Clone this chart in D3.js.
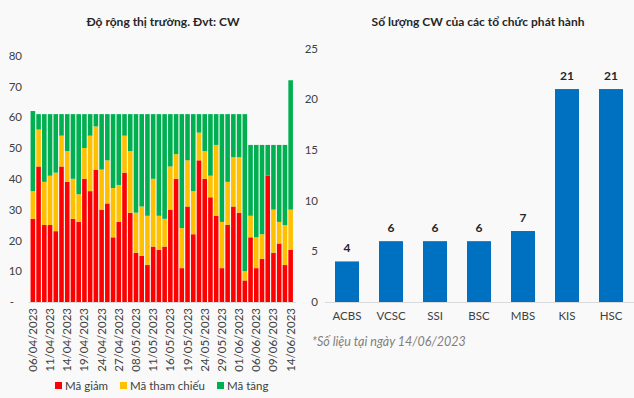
<!DOCTYPE html>
<html><head><meta charset="utf-8">
<script src="https://cdn.jsdelivr.net/npm/d3@7"></script>
<style>
html,body{margin:0;padding:0;background:#f9f9f9;}
svg{display:block;font-family:Lato,"Liberation Sans",sans-serif;}
</style></head><body>
<svg id="c" width="634" height="398"></svg>
<script>
// ---- Data: left chart (market breadth) ----
const dates = ["06/04/2023","07/04/2023","10/04/2023","11/04/2023","12/04/2023","13/04/2023","14/04/2023","17/04/2023","18/04/2023","19/04/2023","20/04/2023","21/04/2023","24/04/2023","25/04/2023","26/04/2023","27/04/2023","04/05/2023","05/05/2023","08/05/2023","09/05/2023","10/05/2023","11/05/2023","12/05/2023","15/05/2023","16/05/2023","17/05/2023","18/05/2023","19/05/2023","22/05/2023","23/05/2023","24/05/2023","25/05/2023","26/05/2023","29/05/2023","30/05/2023","31/05/2023","01/06/2023","02/06/2023","05/06/2023","06/06/2023","07/06/2023","08/06/2023","09/06/2023","12/06/2023","13/06/2023","14/06/2023"];
const decreasing = [27,44,25,25,23,44,39,27,26,40,36,43,30,32,21,26,42,29,16,15,12,18,17,18,30,40,11,31,22,46,40,34,28,11,25,31,29,7,21,11,14,41,16,19,12,17];
const unchanged  = [9,12,14,16,19,10,10,13,9,10,18,14,13,14,16,12,12,20,13,16,16,22,11,9,14,8,13,15,14,9,9,7,23,15,14,16,18,3,7,10,8,0,14,7,13,13];
const increasing = [26,5,22,20,19,7,12,21,26,11,7,4,18,15,24,23,7,12,32,30,33,21,33,34,17,13,37,15,25,6,12,20,10,35,22,14,14,51,23,30,29,10,21,25,26,42];
const seriesNames = ["Mã giảm","Mã tham chiếu","Mã tăng"];
const leftTicks = [0,10,20,30,40,50,60,70,80];
const leftTitle = "Độ rộng thị trường. Đvt: CW";

// ---- Data: right chart (CW per issuer) ----
const issuers = ["ACBS","VCSC","SSI","BSC","MBS","KIS","HSC"];
const cwCounts = [4,6,6,6,7,21,21];
const rightTicks = [0,5,10,15,20,25];
const rightTitle = "Số lượng CW của các tổ chức phát hành";
const footnote = "*Số liệu tại ngày 14/06/2023";

const colors = ["#FF0000","#FFC000","#00B050"];
const blue = "#0070C0";
const txt = "#404040";

const svg = d3.select("#c");

// ===== Left chart =====
const rows = dates.map((d,i)=>({date:d, dec:decreasing[i], ref:unchanged[i], inc:increasing[i]}));
const keys = ["dec","ref","inc"];
const stack = d3.stack().keys(keys)(rows);

const xL = d3.scaleBand().domain(dates).range([30,293.5]).paddingInner(0.2).paddingOuter(0.1);
const yL = d3.scaleLinear().domain([0,80]).range([302, 302-80*3.08]);

const gL = svg.append("g");
gL.selectAll("g.s").data(stack).join("g").attr("fill",(d,i)=>colors[i])
  .selectAll("rect").data(d=>d).join("rect")
  .attr("x",d=>xL(d.data.date)).attr("width",xL.bandwidth())
  .attr("y",d=>yL(d[1])).attr("height",d=>yL(d[0])-yL(d[1]));

// y axis left
const yAxL = d3.axisLeft(yL).tickValues(leftTicks).tickSize(0).tickPadding(0)
  .tickFormat(v=> v===0 ? "-" : v);
const gyL = gL.append("g").attr("transform","translate(22,0)").call(yAxL);
gyL.select(".domain").remove();
gyL.selectAll("text").attr("fill",txt).style("font-size","11.5px").style("font-family","Lato,sans-serif")
  .attr("x", function(d){ return d===0 ? -8 : 0; });

// x axis left
const xAxL = d3.axisBottom(xL).tickValues(dates.filter((d,i)=>i%3===0)).tickSize(0).tickPadding(0);
const gxL = gL.append("g").attr("transform","translate(0,302)").call(xAxL);
gxL.select(".domain").attr("stroke","#d9d9d9").attr("d","M28.5,0.5H296");
gxL.selectAll("text").attr("fill",txt).style("font-size","11.5px").style("font-family","Lato,sans-serif")
  .attr("text-anchor","end").attr("transform","rotate(-90)").attr("x",-6).attr("y",0).attr("dy","0.35em");

// left title
svg.append("text").attr("x",163).attr("y",26).attr("text-anchor","middle")
  .attr("fill","#262626").style("font-weight","bold").style("font-size","12px").text(leftTitle);

// legend
const legX = [55,120,217];
const leg = svg.append("g");
seriesNames.forEach((n,i)=>{
  leg.append("rect").attr("x",legX[i]).attr("y",382).attr("width",7).attr("height",7).attr("fill",colors[i]);
  leg.append("text").attr("x",legX[i]+10).attr("y",389.5).attr("fill",txt).style("font-size","11.5px").text(n);
});

// ===== Right chart =====
const xR = d3.scaleBand().domain(issuers).range([325,633]).paddingInner(20/44).paddingOuter(10/44);
const yR = d3.scaleLinear().domain([0,25]).range([302, 302-25*10.14]);
const gR = svg.append("g");
gR.selectAll("rect").data(issuers).join("rect")
  .attr("x",d=>xR(d)).attr("width",xR.bandwidth())
  .attr("y",(d,i)=>yR(cwCounts[i])).attr("height",(d,i)=>yR(0)-yR(cwCounts[i]))
  .attr("fill",blue);
gR.selectAll("text.v").data(issuers).join("text").attr("class","v")
  .attr("x",d=>xR(d)+xR.bandwidth()/2).attr("y",(d,i)=>yR(cwCounts[i])-9)
  .attr("text-anchor","middle").attr("fill","#262626").style("font-weight","bold").style("font-size","12px")
  .text((d,i)=>cwCounts[i]);

const gyR = gR.append("g").attr("transform","translate(318,0)")
  .call(d3.axisLeft(yR).tickValues(rightTicks).tickSize(0).tickPadding(0));
gyR.select(".domain").remove();
gyR.selectAll("text").attr("fill",txt).style("font-size","11.5px").style("font-family","Lato,sans-serif");

const gxR = gR.append("g").attr("transform","translate(0,302)")
  .call(d3.axisBottom(xR).tickSize(0).tickPadding(10));
gxR.select(".domain").attr("stroke","#d9d9d9").attr("d","M325,0.5H634");
gxR.selectAll("text").attr("fill",txt).style("font-size","11.5px").style("font-family","Lato,sans-serif");

svg.append("text").attr("x",478).attr("y",26).attr("text-anchor","middle")
  .attr("fill","#262626").style("font-weight","bold").style("font-size","12px").text(rightTitle);

svg.append("text").attr("x",312).attr("y",346).attr("fill","#7f7f7f")
  .style("font-style","italic").style("font-size","12.5px").text(footnote);
</script>
</body></html>
